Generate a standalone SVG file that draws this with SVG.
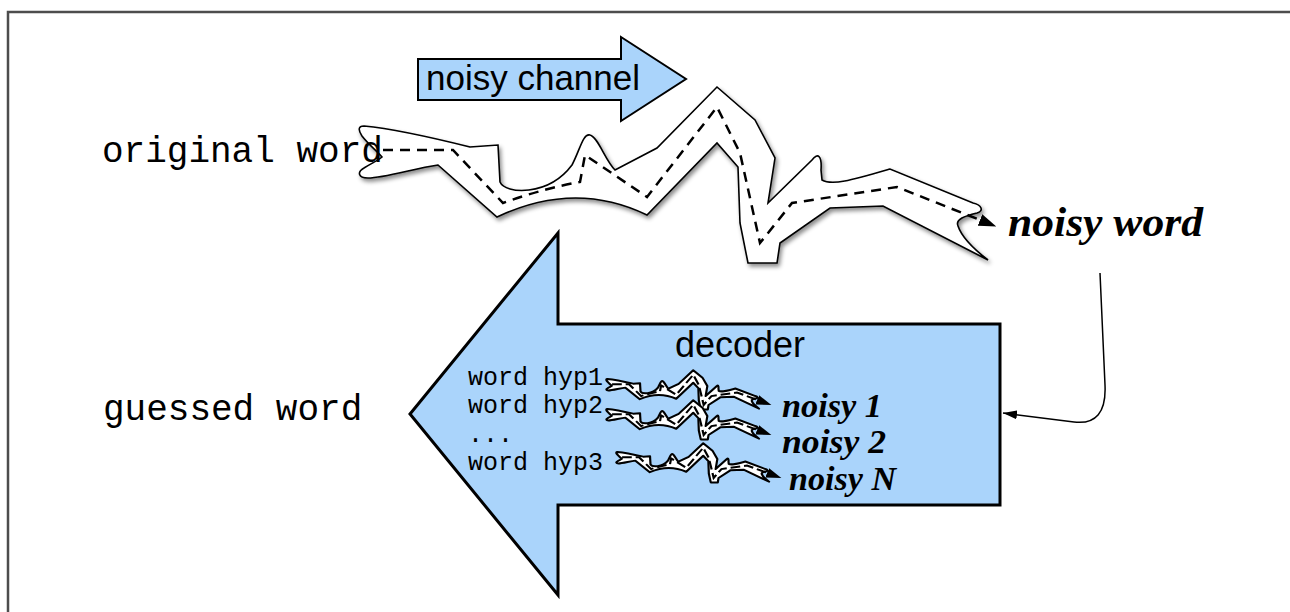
<svg xmlns="http://www.w3.org/2000/svg" xmlns:xlink="http://www.w3.org/1999/xlink" width="1290" height="612" viewBox="0 0 1290 612">
  <style>
    .frame { fill: none; stroke: #4d4d4d; stroke-width: 2.5; }
    .blue-arrow { fill: #aad4fb; stroke: #000; stroke-linejoin: miter; }
    .sans { font-family: "Liberation Sans", Arial, Helvetica, sans-serif; fill: #000; }
    .mono { font-family: "Courier New", "Liberation Mono", monospace; fill: #000; }
    .script { font-family: "Liberation Serif", "Times New Roman", serif; font-style: italic; font-weight: bold; fill: #000; }
    .sq-out { fill: #fff; stroke: #000; stroke-width: 1.6; stroke-linejoin: miter; }
    .sq-dash { fill: none; stroke: #000; stroke-width: 2.5; stroke-dasharray: 10 7; marker-end: url(#sq-head); }
    .mini-out { fill: #fff; stroke: #000; stroke-width: 9; stroke-linejoin: round; }
    .mini-dash { fill: none; stroke: #000; stroke-width: 9; stroke-dasharray: 40 16; marker-end: url(#sq-head); }
    .link { fill: none; stroke: #000; stroke-width: 1.5; marker-end: url(#link-head); }
  </style>
  <defs>
    <!-- wavy channel outline and its dashed centre route -->
    <path id="sq-outline" d="M364,126 C385,128 430,137 470,147 L498,145 L500,182 C505,194 548,197 572,165 C580,150 583,133 590,135 C598,137 605,160 615,170 L657,148 L717,87 L755,120 L775,158 L768,203 L812,160 C818,152 822,156 821,170 L822,180 C832,186 852,180 890,169 L973,203 C982,205 984,211 977,213 C965,216 955,219 958,226 C962,238 975,250 988,260 L883,206 L830,208 L780,243 L777,263 L748,263 L740,223 L738,167 L717,143 L647,215 Q575,180 497,217 L438,165 C415,168 385,178 368,178 C358,178 357,172 364,168 C372,163 379,160 382,157 C378,152 368,144 362,136 C358,130 358,126 364,126 Z"/>
    <path id="sq-route" d="M383,150 L453,150 L503,203 Q545,188 580,182 L585,155 L647,197 L717,107 L740,153 L760,243 L792,203 L897,187 L980,220"/>
    <marker id="sq-head" viewBox="0 0 10 7" refX="0" refY="3.5" markerWidth="7" markerHeight="4.9" orient="auto" markerUnits="strokeWidth">
      <path d="M0,0 L10,3.5 L0,7 Z" fill="#000"/>
    </marker>
    <marker id="link-head" viewBox="0 0 14 9" refX="14" refY="4.5" markerWidth="14" markerHeight="9" orient="auto" markerUnits="userSpaceOnUse">
      <path d="M0,0 L14,4.5 L0,9 Z" fill="#000"/>
    </marker>
    <filter id="soft-shadow" x="-10%" y="-10%" width="130%" height="140%">
      <feDropShadow dx="2" dy="3" stdDeviation="2" flood-color="#000" flood-opacity="0.45"/>
    </filter>
  </defs>

  <!-- page frame -->
  <path class="frame" d="M8,614 L8,12 L1292,12"/>

  <!-- connectors -->
  <g id="connectors">
    <g id="channel-route">
      <use xlink:href="#sq-outline" href="#sq-outline" class="sq-out" filter="url(#soft-shadow)"/>
      <use xlink:href="#sq-route" href="#sq-route" class="sq-dash"/>
    </g>
    <path id="feedback-link" class="link" d="M1100,273 L1105,385 Q1107,426 1074,422 L1003,413"/>
  </g>

  <g id="node-channel">
    <path class="blue-arrow" stroke-width="2" d="M418,59 L621,59 L621,37 L686,79 L621,121 L621,100 L418,100 Z"/>
    <text class="sans" x="426" y="90" font-size="35">noisy channel</text>
  </g>

  <g id="node-original">
    <text class="mono" x="102" y="162" font-size="36">original word</text>
  </g>

  <g id="node-noisy">
    <text class="script" x="1008" y="236" font-size="42" textLength="195" lengthAdjust="spacingAndGlyphs">noisy word</text>
  </g>

  <g id="node-guessed">
    <text class="mono" x="103" y="420" font-size="36">guessed word</text>
  </g>

  <g id="node-decoder">
    <path class="blue-arrow" stroke-width="3" d="M1000,324 L558,324 L558,233 L410,414 L558,595 L558,505 L1000,505 Z"/>
    <text class="sans" x="675" y="357" font-size="36">decoder</text>
    <text class="mono" x="468" y="385" font-size="25">word hyp1</text>
    <text class="mono" x="468" y="413" font-size="25">word hyp2</text>
    <text class="mono" x="468" y="442" font-size="25">...</text>
    <text class="mono" x="468" y="470" font-size="25">word hyp3</text>
    <!-- small channel copies, one per hypothesis -->
    <g transform="translate(519,351) scale(0.243,0.222)">
      <use xlink:href="#sq-outline" href="#sq-outline" class="mini-out"/>
      <use xlink:href="#sq-route" href="#sq-route" class="mini-dash"/>
    </g>
    <g transform="translate(519,381) scale(0.243,0.222)">
      <use xlink:href="#sq-outline" href="#sq-outline" class="mini-out"/>
      <use xlink:href="#sq-route" href="#sq-route" class="mini-dash"/>
    </g>
    <g transform="translate(529,424) scale(0.243,0.222)">
      <use xlink:href="#sq-outline" href="#sq-outline" class="mini-out"/>
      <use xlink:href="#sq-route" href="#sq-route" class="mini-dash"/>
    </g>
    <text class="script" x="782" y="417" font-size="34" textLength="100" lengthAdjust="spacingAndGlyphs">noisy 1</text>
    <text class="script" x="782" y="453" font-size="34" textLength="104" lengthAdjust="spacingAndGlyphs">noisy 2</text>
    <text class="script" x="789" y="490" font-size="34" textLength="107" lengthAdjust="spacingAndGlyphs">noisy N</text>
  </g>
</svg>
